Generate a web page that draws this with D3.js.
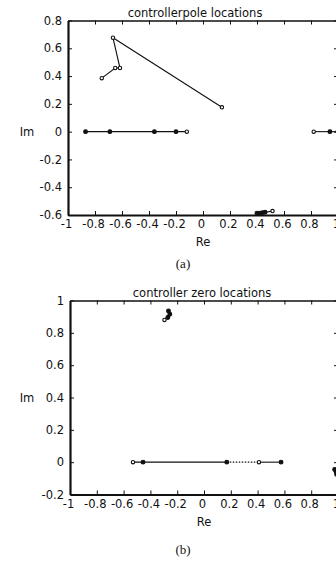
<!DOCTYPE html>
<html>
<head>
<meta charset="utf-8">
<script src="https://cdn.jsdelivr.net/npm/d3@7"></script>
<style>
  body { margin: 0; background: #fff; }
  svg { display: block; }
  .tick text { font-family: "DejaVu Sans", sans-serif; font-size: 11.5px; fill: #111; }
  .lbl { font-family: "DejaVu Sans", sans-serif; font-size: 11.5px; fill: #111; }
  .cap { font-family: "Liberation Serif", serif; font-size: 13px; fill: #111; }
</style>
</head>
<body>
<div id="chart"></div>
<script>
// tick values
const reTicks = [-1, -0.8, -0.6, -0.4, -0.2, 0, 0.2, 0.4, 0.6, 0.8, 1];
const poleImTicks = [-0.6, -0.4, -0.2, 0, 0.2, 0.4, 0.6, 0.8];
const zeroImTicks = [-0.2, 0, 0.2, 0.4, 0.6, 0.8, 1];

// (a) controller pole trajectories  ('f' = filled dot, 'o' = open circle)
const poleRealRe = [-0.87, -0.69, -0.36, -0.2, -0.12];
const poleRealIm = [0, 0, 0, 0, 0];
const poleRealMk = ['f', 'f', 'f', 'f', 'o'];

const poleUpRe = [-0.75, -0.65, -0.615, -0.667, 0.14];
const poleUpIm = [0.385, 0.458, 0.458, 0.676, 0.175];
const poleUpMk = ['o', 'o', 'o', 'o', 'o'];

const poleLowRe = [0.4, 0.42, 0.44, 0.46, 0.515];
const poleLowIm = [-0.587, -0.587, -0.583, -0.58, -0.572];
const poleLowMk = ['f', 'f', 'f', 'f', 'o'];

const poleRightRe = [0.82, 0.94, 1.0];
const poleRightIm = [0, 0, 0];
const poleRightMk = ['o', 'f', 'f'];

// (b) controller zero trajectories
const zeroRealRe = [-0.53, -0.455, 0.17, 0.41, 0.575];
const zeroRealIm = [0, 0, 0, 0, 0];
const zeroRealMk = ['o', 'f', 'f', 'o', 'f'];

const zeroUpRe = [-0.265, -0.255, -0.27, -0.295];
const zeroUpIm = [0.935, 0.915, 0.895, 0.88];
const zeroUpMk = ['f', 'f', 'f', 'o'];

const zeroRightRe = [0.975, 0.985, 0.99];
const zeroRightIm = [-0.045, -0.06, -0.075];
const zeroRightMk = ['f', 'f', 'f'];

const W = 336, H = 561;
const svg = d3.select('#chart').append('svg').attr('width', W).attr('height', H);

const fmt = d => String(+d.toFixed(1));

function panel(opt) {
  const g = svg.append('g').attr('transform', `translate(${opt.left},${opt.top})`);
  const x = d3.scaleLinear().domain([-1, 1]).range([0, opt.w]);
  const y = d3.scaleLinear().domain(opt.yDomain).range([opt.h, 0]);

  // axes with inward ticks (box style)
  const bottom = g.append('g').attr('transform', `translate(0,${opt.h})`)
    .call(d3.axisBottom(x).tickValues(reTicks).tickFormat(fmt).tickSizeInner(-4).tickSizeOuter(0).tickPadding(5));
  bottom.selectAll('text').attr('dx', -2);
  const top = g.append('g')
    .call(d3.axisTop(x).tickValues(reTicks).tickFormat('').tickSizeInner(-4).tickSizeOuter(0));
  const left = g.append('g')
    .call(d3.axisLeft(y).tickValues(opt.yTicks).tickFormat(fmt).tickSizeInner(-4).tickSizeOuter(0).tickPadding(6));
  const right = g.append('g').attr('transform', `translate(${opt.w},0)`)
    .call(d3.axisRight(y).tickValues(opt.yTicks).tickFormat('').tickSizeInner(-4).tickSizeOuter(0));

  [bottom, top, left, right].forEach(a => a.selectAll('line').attr('stroke', '#111'));
  bottom.select('.domain').attr('stroke', '#111').attr('stroke-width', 2);
  left.select('.domain').attr('stroke', '#111').attr('stroke-width', 2.2);
  top.select('.domain').attr('stroke', '#111').attr('stroke-width', 1.5);
  right.select('.domain').attr('stroke', '#111').attr('stroke-width', 1.5);

  const line = d3.line().x(d => x(d[0])).y(d => y(d[1]));
  opt.traces.forEach(t => {
    const pts = t.re.map((r, i) => [r, t.im[i], t.mk[i]]);
    if (t.dashMid) {
      // scanned figure shows a faint dotted middle segment
      g.append('path').datum(pts.slice(0, 3)).attr('d', line)
        .attr('fill', 'none').attr('stroke', '#111').attr('stroke-width', 1.1);
      g.append('path').datum(pts.slice(2, 4)).attr('d', line)
        .attr('fill', 'none').attr('stroke', '#111').attr('stroke-width', 1.1).attr('stroke-dasharray', '1.5,1.5');
      g.append('path').datum(pts.slice(3)).attr('d', line)
        .attr('fill', 'none').attr('stroke', '#111').attr('stroke-width', 1.1);
    } else {
      g.append('path').datum(pts).attr('d', line)
        .attr('fill', 'none').attr('stroke', '#111').attr('stroke-width', 1.1);
    }
    g.selectAll(null).data(pts).enter().append('circle')
      .attr('cx', d => x(d[0])).attr('cy', d => y(d[1]))
      .attr('r', d => d[2] === 'f' ? 1.9 : 1.7)
      .attr('fill', d => d[2] === 'f' ? '#111' : '#fff')
      .attr('stroke', '#111').attr('stroke-width', 1.1);
  });

  g.append('text').attr('class', 'lbl').attr('text-anchor', 'middle')
    .attr('x', opt.titleX - opt.left).attr('y', -4).text(opt.title);
  g.append('text').attr('class', 'lbl').attr('text-anchor', 'middle')
    .attr('x', x(0)).attr('y', opt.h + 31).text('Re');
  g.append('text').attr('class', 'lbl').attr('text-anchor', 'middle')
    .attr('x', 27 - opt.left).attr('y', y(opt.imAt) + 4.5).text('Im');
  g.append('text').attr('class', 'cap').attr('text-anchor', 'middle')
    .attr('x', 183 - opt.left).attr('y', opt.h + opt.capDy).text(opt.caption);
}

panel({
  left: 68, top: 20.5, w: 270, h: 194.5,
  yDomain: [-0.6, 0.8], yTicks: poleImTicks, imAt: 0,
  title: 'controllerpole locations', titleX: 195,
  caption: '(a)', capDy: 53,
  traces: [
    { re: poleRealRe, im: poleRealIm, mk: poleRealMk },
    { re: poleUpRe, im: poleUpIm, mk: poleUpMk },
    { re: poleLowRe, im: poleLowIm, mk: poleLowMk },
    { re: poleRightRe, im: poleRightIm, mk: poleRightMk }
  ]
});

panel({
  left: 70, top: 300.5, w: 268, h: 194,
  yDomain: [-0.2, 1], yTicks: zeroImTicks, imAt: 0.4,
  title: 'controller zero locations', titleX: 202,
  caption: '(b)', capDy: 59,
  traces: [
    { re: zeroRealRe, im: zeroRealIm, mk: zeroRealMk, dashMid: true },
    { re: zeroUpRe, im: zeroUpIm, mk: zeroUpMk },
    { re: zeroRightRe, im: zeroRightIm, mk: zeroRightMk }
  ]
});
</script>
</body>
</html>
